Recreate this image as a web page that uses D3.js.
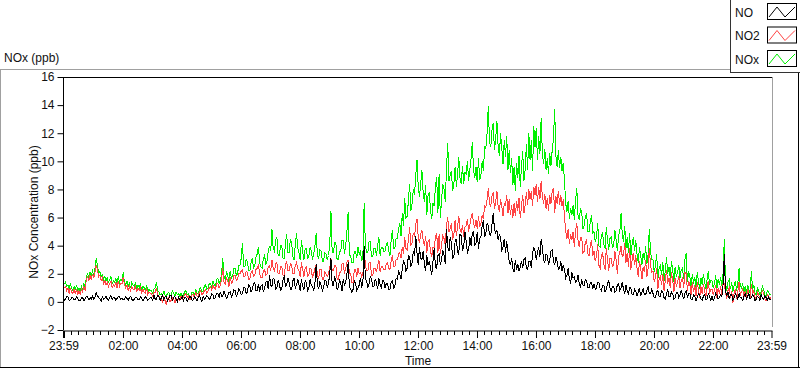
<!DOCTYPE html>
<html>
<head>
<meta charset="utf-8">
<script src="https://cdn.jsdelivr.net/npm/d3@7"></script>
<style>
  body { margin: 0; background: #fff; }
  svg { display: block; font-family: "Liberation Sans", Arial, sans-serif; }
</style>
</head>
<body>
<svg id="chart" width="800" height="369"></svg>
<script>
"use strict";

// samples every 2.5 minutes from 23:59 to 23:59, one row per hour (24 values), plus a final point
const noValues = [
  0.3,0.1,0.2,0.35,0.35,0.1,0.15,0.3,0.3,0.15,0.2,0.35,0.25,0.05,0.1,0.3,0.3,0.1,0.2,0.4,0.35,0.15,0.3,0.2,
  0.4,0.2,0.3,0.65,0.45,0.3,0.2,0.05,0.35,0.2,0.25,0.4,0.2,0.1,0.3,0.45,0.15,0.3,0.3,0.1,0.25,0.4,0.35,0.15,
  0.3,0.15,0.2,0.35,0.25,0.1,0.3,0.4,0.2,0.05,0.2,0.3,0.3,0.15,0.15,0.35,0.25,0.1,0.2,0.35,0.3,0.1,0.2,0.3,
  0.3,0.1,0.5,0.2,0.2,0.45,0.4,0.1,0.3,0.5,0.15,0.35,0.4,0.05,0.2,0.45,0.45,0.1,0.3,0.4,0.2,0.0,0.35,0.2,
  0.2,0.4,0.1,0.3,0.3,0.05,0.2,0.4,0.35,0.1,0.15,0.35,0.25,0.05,0.3,0.45,0.2,0.05,0.4,0.2,0.3,0.45,0.35,0.15,
  0.3,0.55,0.5,0.2,0.35,0.6,0.6,0.3,0.7,0.4,0.4,0.75,0.55,0.25,0.4,0.65,0.7,0.35,0.5,0.85,0.8,0.4,0.6,0.9,
  0.8,0.5,0.6,1.0,1.0,0.6,0.7,1.2,1.1,0.7,0.9,1.3,1.4,0.8,0.8,1.3,0.7,1.1,1.2,0.7,1.0,1.4,1.5,0.9,
  1.9,1.2,1.1,1.7,1.6,0.9,1.0,1.5,1.3,0.8,0.9,1.6,1.8,1.1,1.2,1.7,1.4,0.9,0.9,1.5,1.7,1.0,1.2,1.6,
  1.2,0.8,1.6,1.1,0.9,1.5,1.4,0.8,1.0,1.6,1.2,1.1,0.8,1.4,2.7,1.2,0.9,1.4,1.2,0.8,1.0,1.5,1.5,1.0,
  1.3,2.0,3.1,1.2,1.2,1.8,1.5,0.9,1.0,1.6,1.3,0.8,1.6,1.2,1.4,2.0,2.8,1.1,0.9,0.7,0.9,1.5,1.3,0.8,
  1.0,1.2,1.7,1.0,1.4,4.0,1.6,1.5,1.0,1.3,1.8,1.6,1.1,1.1,1.6,1.4,0.9,1.7,1.2,1.0,1.5,1.5,1.0,1.3,
  1.3,0.9,0.9,1.4,1.5,1.0,1.1,1.7,1.6,2.2,2.0,1.6,2.3,2.9,2.8,2.2,2.4,3.3,3.2,2.5,2.8,3.6,3.3,4.7,
  3.5,2.6,3.9,3.1,3.0,3.6,2.7,2.2,3.3,2.6,2.9,2.4,1.9,2.9,3.8,2.5,2.4,3.3,3.4,2.6,3.0,3.7,3.3,2.7,
  5.2,3.9,3.6,4.6,4.2,3.1,3.2,4.3,4.5,3.5,3.4,4.8,4.7,3.6,3.9,5.0,4.3,3.5,3.7,4.6,4.0,4.9,5.0,4.0,
  4.2,5.0,3.8,4.5,4.6,5.4,5.8,4.6,4.9,5.6,5.4,4.8,4.7,5.5,6.3,5.2,4.9,5.1,4.4,4.8,4.6,3.7,3.9,4.5,
  3.5,4.3,3.6,2.9,2.6,3.1,2.4,2.1,3.0,2.3,2.7,2.2,2.5,2.9,2.4,3.0,3.1,2.4,2.3,2.9,2.9,2.4,3.4,3.9,
  3.6,3.0,3.5,3.9,3.2,4.5,3.9,3.0,2.8,3.4,3.3,2.6,3.0,3.6,3.7,2.9,2.6,3.2,2.9,2.3,2.4,2.9,2.2,2.6,
  2.3,1.7,1.9,2.4,1.6,1.3,2.1,1.7,1.8,1.4,1.5,1.9,1.3,1.0,1.6,1.2,1.2,1.6,1.5,1.0,1.0,1.4,1.4,0.9,
  1.3,0.9,1.0,1.4,1.4,0.9,0.8,1.2,1.2,0.7,0.9,1.3,1.5,1.0,0.7,1.1,1.1,0.7,0.8,1.2,1.3,0.8,1.0,1.4,
  0.9,0.6,1.2,0.8,0.6,1.0,1.0,0.5,0.5,0.9,0.8,0.4,0.7,1.0,0.4,0.7,0.9,0.5,0.5,0.8,1.1,0.6,0.6,0.9,
  0.6,0.3,0.3,0.7,0.8,0.4,0.4,0.8,0.7,0.3,0.2,0.6,0.9,0.4,0.4,0.7,0.6,0.2,0.3,0.7,0.7,0.3,0.5,0.8,
  0.5,0.2,0.6,0.8,0.3,0.6,0.6,0.2,0.2,0.5,0.4,0.1,0.3,0.6,0.5,0.2,0.1,0.4,0.5,0.2,0.2,0.6,0.4,0.1,
  0.4,0.1,0.3,0.6,0.5,0.2,0.3,0.5,0.4,1.2,3.4,0.8,0.4,0.7,0.2,0.5,0.5,0.1,0.3,0.6,0.4,0.2,0.6,0.3,
  0.3,0.1,0.4,0.6,0.2,0.4,0.6,0.2,0.3,0.5,0.4,0.1,0.2,0.4,0.3,0.1,0.5,0.3,0.2,0.45,0.3,0.1,0.35,0.2,
  0.2
];

const no2Values = [
  1.3,1.0,1.1,0.8,1.0,0.6,1.0,0.7,0.6,0.9,0.6,0.9,0.5,0.8,0.5,0.9,0.7,1.1,0.8,1.6,1.8,1.5,1.9,1.6,
  2.0,1.7,2.1,2.6,2.3,1.8,1.9,1.5,1.7,1.3,1.5,1.2,1.4,1.1,1.3,1.5,1.0,1.2,1.1,1.4,1.0,1.5,1.1,1.3,
  1.3,1.8,1.2,1.0,1.2,0.8,1.1,0.8,1.1,0.9,0.9,1.1,0.7,1.0,0.8,1.0,0.6,0.9,0.7,0.6,1.0,0.5,0.7,0.6,
  0.6,0.4,0.7,0.7,1.0,0.5,0.4,0.2,0.2,0.0,0.4,0.1,-0.2,0.2,0.3,0.0,0.1,0.3,0.2,-0.1,0.3,0.0,0.3,0.1,
  0.4,0.2,0.3,0.5,0.6,0.3,0.4,0.2,0.2,0.5,0.5,0.3,0.7,0.4,0.4,0.7,0.8,0.5,0.6,0.8,0.9,0.6,0.8,1.0,
  1.1,0.8,1.2,1.0,0.9,1.3,1.3,1.0,1.2,1.6,2.4,1.4,1.3,1.7,1.5,1.1,1.8,1.3,1.4,1.9,1.9,1.5,1.6,2.0,
  2.0,2.2,2.3,1.8,1.8,2.2,2.1,1.6,1.6,2.1,2.2,1.8,1.9,2.3,2.4,2.6,2.0,1.7,1.7,2.2,2.3,1.9,2.0,2.5,
  2.6,2.2,3.0,2.4,2.2,2.7,2.8,2.0,2.0,2.5,2.5,1.9,1.9,2.6,2.9,2.2,2.2,2.7,2.6,2.0,2.0,2.6,2.8,2.4,
  2.2,1.8,2.8,2.3,1.8,2.4,2.5,1.8,1.9,2.4,2.3,1.7,2.0,2.4,2.7,1.9,1.7,2.3,2.3,1.6,1.6,2.1,2.0,1.8,
  2.0,2.4,3.1,2.2,2.2,2.6,2.6,1.6,1.6,2.1,2.1,2.7,2.7,2.0,2.4,2.8,3.0,2.0,2.0,1.4,1.4,2.3,2.3,1.8,
  2.4,2.0,2.1,1.8,2.0,3.9,2.6,2.2,2.2,2.8,2.8,1.9,1.9,2.4,2.4,2.1,2.6,3.0,2.1,2.5,2.5,2.3,2.3,2.7,
  2.8,2.4,2.3,2.9,3.3,2.5,2.5,3.0,3.0,3.4,3.5,3.1,3.9,3.4,4.6,3.8,3.7,4.4,5.3,4.0,4.2,4.9,4.6,5.5,
  5.9,4.6,4.2,4.8,5.1,4.4,4.0,4.7,3.5,4.3,4.4,3.6,3.2,3.9,3.8,4.6,4.9,3.5,4.8,3.4,4.1,4.7,4.5,4.0,
  5.5,6.0,5.0,5.2,5.6,4.4,4.8,5.8,4.7,5.3,6.1,5.2,4.9,5.5,4.6,5.3,5.4,5.9,5.0,5.5,6.0,6.3,5.6,5.3,
  5.8,5.2,6.1,5.3,5.6,6.2,5.9,6.9,6.7,7.3,8.1,7.0,6.8,7.5,7.8,6.6,7.1,7.9,6.8,6.4,7.3,6.8,6.1,7.0,
  6.9,7.6,6.3,7.3,6.2,6.9,6.0,7.0,6.1,7.2,6.5,7.4,6.0,6.8,7.6,6.3,6.9,7.8,6.9,8.0,7.3,7.9,6.8,8.2,
  7.6,8.4,7.1,8.2,7.3,8.6,7.5,7.0,7.7,6.6,7.4,6.5,7.6,7.0,7.9,8.1,6.3,7.5,7.0,7.9,6.9,7.6,6.8,7.3,
  6.0,5.0,4.5,5.2,4.1,4.8,4.4,5.0,3.9,5.1,5.6,4.4,3.9,4.6,4.6,3.5,3.6,4.3,4.4,3.4,3.3,4.0,4.4,3.3,
  3.6,2.9,3.2,4.1,2.6,2.4,3.3,3.5,2.7,2.3,3.8,3.0,2.2,3.1,3.1,2.5,2.6,3.6,3.0,2.0,3.2,3.5,4.0,3.2,
  3.3,4.2,2.8,3.5,2.5,3.8,2.3,3.0,3.5,2.6,3.3,2.4,1.8,2.9,2.4,1.6,2.5,2.1,3.0,1.8,2.4,3.8,2.6,2.1,
  2.2,1.4,1.8,2.4,0.9,1.6,1.8,1.2,2.0,0.8,1.5,2.3,1.3,1.7,1.0,2.1,1.6,0.7,1.7,1.1,1.4,1.8,1.0,1.5,
  1.7,1.0,2.1,2.0,0.8,1.5,1.2,0.5,1.4,0.7,1.2,0.4,1.4,0.9,0.3,1.1,0.6,1.3,0.8,0.3,1.0,1.5,0.6,0.9,
  0.9,0.5,0.8,1.2,0.3,1.0,0.6,1.1,0.5,1.3,1.3,0.7,0.2,0.8,1.0,0.3,0.8,-0.1,0.6,0.9,0.2,0.7,1.4,0.5,
  0.7,0.9,0.3,0.8,0.3,0.9,0.6,0.2,1.3,0.6,0.8,0.3,0.2,0.7,0.5,0.1,0.4,0.8,0.6,0.2,0.1,0.5,0.4,0.2,
  0.3
];

const noxValues = [
  1.5,1.3,1.4,1.1,1.2,0.9,1.3,1.0,0.8,1.1,0.9,1.2,0.8,1.0,0.7,1.1,0.9,1.3,1.0,1.8,2.0,1.7,2.1,1.9,
  2.2,1.9,2.4,3.1,2.6,2.0,2.2,1.8,1.9,1.6,1.8,1.5,1.7,1.4,1.6,1.8,1.3,1.5,1.4,1.7,1.3,1.8,1.4,1.6,
  1.5,2.1,1.4,1.2,1.5,1.1,1.3,1.0,1.4,1.2,1.1,1.4,0.9,1.2,1.0,1.3,0.8,1.1,1.0,0.8,1.2,0.7,0.9,0.8,
  0.8,0.6,0.9,1.0,1.4,0.8,0.7,0.5,0.6,0.4,0.8,0.5,0.4,0.6,0.7,0.4,0.5,0.8,0.6,0.4,0.7,0.5,0.6,0.4,
  0.6,0.4,0.5,0.7,0.8,0.5,0.6,0.4,0.4,0.7,0.7,0.5,0.9,0.6,0.6,0.9,1.0,0.7,0.8,1.1,1.2,0.9,1.0,1.3,
  1.3,1.0,1.5,1.2,1.1,1.6,1.7,1.3,1.5,2.0,3.1,1.8,1.6,2.1,1.9,1.4,2.2,1.7,1.8,2.4,2.4,1.9,2.0,2.6,
  2.6,3.1,4.2,2.5,2.5,3.0,2.9,2.2,2.2,2.8,3.1,2.4,2.6,3.2,3.4,3.9,2.8,2.5,2.4,3.1,3.3,2.7,2.9,3.6,
  4.0,3.6,5.2,3.8,3.6,4.4,4.6,3.3,3.3,4.0,4.0,3.1,3.1,4.2,4.8,3.5,3.5,4.5,4.2,3.2,3.0,4.1,4.9,3.8,
  3.5,3.0,4.4,3.6,3.0,3.8,3.8,3.1,3.2,3.9,3.6,3.0,3.4,4.0,4.9,3.3,3.1,3.7,3.6,2.9,2.9,3.5,3.4,3.0,
  3.3,4.0,6.5,3.5,3.5,4.2,4.2,3.0,3.0,3.6,3.6,4.4,4.4,3.4,4.0,5.0,6.4,3.3,3.3,2.8,2.8,3.6,3.6,3.1,
  3.9,3.4,3.6,2.9,3.3,7.0,4.0,3.5,3.5,4.3,4.3,3.2,3.2,3.8,3.8,3.3,4.0,4.6,3.3,3.9,3.9,3.6,3.6,4.1,
  4.2,3.6,3.3,4.4,5.1,3.8,3.8,4.5,4.5,5.2,5.6,4.7,6.3,5.4,7.4,6.0,6.1,7.2,8.4,6.5,7.0,8.0,7.6,9.0,
  10.1,8.2,7.5,8.4,9.4,7.8,7.1,8.3,6.2,7.6,7.8,6.5,5.9,7.0,6.8,8.2,8.9,6.3,9.1,6.0,7.3,8.4,8.0,7.1,
  9.5,11.3,8.6,9.0,9.3,7.9,8.4,9.6,8.2,9.1,10.3,8.8,8.4,9.7,8.4,9.2,9.1,10.0,8.6,9.4,10.2,11.4,9.4,8.8,
  9.6,8.5,10.2,8.7,9.0,10.0,9.3,11.0,10.9,12.0,13.9,11.4,11.0,12.2,12.7,10.8,11.6,12.9,11.1,10.4,12.0,10.9,9.8,11.5,
  10.3,11.8,9.4,10.8,9.2,10.2,8.3,9.6,7.9,9.9,8.8,10.4,8.2,9.6,10.7,8.6,9.4,11.2,9.4,12.0,10.1,11.5,9.3,12.5,
  11.0,12.4,10.1,11.8,10.5,13.1,10.6,9.8,10.9,9.4,10.2,9.1,10.6,9.7,10.8,11.6,13.7,10.4,9.6,10.8,9.5,10.3,9.3,9.9,
  8.6,7.0,6.4,7.2,5.9,6.7,6.2,6.9,5.8,7.2,8.1,6.2,5.8,6.6,6.4,5.2,5.4,6.1,6.3,5.0,5.0,5.7,6.2,4.9,
  5.0,4.3,4.6,5.6,4.0,3.9,4.7,4.9,4.1,3.8,5.3,4.4,3.7,4.5,4.6,3.9,4.0,5.1,4.4,3.6,4.7,5.0,6.3,4.8,
  4.3,5.4,3.8,4.6,3.5,4.9,3.2,4.1,4.6,3.6,4.4,3.4,2.8,3.9,3.3,2.6,3.5,3.0,4.0,2.7,3.4,5.2,3.6,3.0,
  3.0,2.1,2.6,3.4,1.6,2.4,2.6,1.9,2.8,1.5,2.2,3.2,2.0,2.5,1.7,2.9,2.3,1.4,2.5,1.8,2.1,2.6,1.7,2.3,
  2.4,1.6,3.0,3.5,1.4,2.2,1.8,1.1,2.0,1.3,1.8,1.0,2.1,1.5,0.9,1.7,1.2,2.0,1.4,0.9,1.6,2.2,1.2,1.5,
  1.5,1.0,1.3,1.9,0.9,1.6,1.2,1.8,1.1,2.0,4.5,1.3,0.8,1.4,1.6,0.9,1.4,0.7,1.2,1.5,0.8,1.3,2.4,1.1,
  1.0,1.3,0.7,1.1,0.6,1.2,0.9,0.6,2.2,0.9,1.2,0.6,0.5,1.0,0.8,0.5,0.7,1.1,0.9,0.5,0.4,0.8,0.7,0.5,
  0.5
];

const seriesNames = ["NO", "NO2", "NOx"];
const seriesColors = ["#000000", "#ff4444", "#00f000"];

// minutes after midnight; -1 is the 23:59 start
const xTickMinutes = [-1, 120, 240, 360, 480, 600, 720, 840, 960, 1080, 1200, 1320, 1439];
const xTickLabels = ["23:59", "02:00", "04:00", "06:00", "08:00", "10:00", "12:00",
                     "14:00", "16:00", "18:00", "20:00", "22:00", "23:59"];
const yTicks = [-2, 0, 2, 4, 6, 8, 10, 12, 14, 16];
const sampleStep = 2.5; // minutes

const svg = d3.select("#chart");

const plot = {left: 63, right: 772, top: 77, bottom: 330};

const x = d3.scaleLinear().domain([-1, 1439]).range([plot.left, plot.right - 1]);
const y = d3.scaleLinear().domain([-2, 16]).range([plot.bottom, plot.top]);

// outer panel frame
svg.append("line").attr("x1", 0).attr("x2", 730).attr("y1", 69.5).attr("y2", 69.5)
  .attr("stroke", "#a0a0a0");
svg.append("line").attr("x1", 0.5).attr("x2", 0.5).attr("y1", 69).attr("y2", 368)
  .attr("stroke", "#a0a0a0");
svg.append("line").attr("x1", 0).attr("x2", 800).attr("y1", 367.5).attr("y2", 367.5)
  .attr("stroke", "#000");
svg.append("line").attr("x1", 798.5).attr("x2", 798.5).attr("y1", 72).attr("y2", 368)
  .attr("stroke", "#000");

svg.append("text").attr("x", 4).attr("y", 62).attr("font-size", 12).attr("fill", "#111")
  .text("NOx (ppb)");

// plot area frame
svg.append("line").attr("x1", plot.left).attr("x2", plot.right).attr("y1", plot.top + 0.5).attr("y2", plot.top + 0.5)
  .attr("stroke", "#000");
svg.append("line").attr("x1", plot.right + 0.5).attr("x2", plot.right + 0.5).attr("y1", plot.top).attr("y2", plot.bottom - 3)
  .attr("stroke", "#a0a0a0");

// lines, NOx behind, NO on top
const allSeries = [noValues, no2Values, noxValues];
const line = d3.line()
  .x((d, i) => x(-1 + i * sampleStep))
  .y(d => y(d));

[2, 1, 0].forEach(k => {
  svg.append("path")
    .datum(allSeries[k])
    .attr("d", line)
    .attr("fill", "none")
    .attr("stroke", seriesColors[k])
    .attr("stroke-width", 1)
    .attr("shape-rendering", "crispEdges");
});

// y axis
const yAxis = svg.append("g")
  .attr("transform", `translate(${plot.left + 0.5},0)`)
  .call(d3.axisLeft(y).tickValues(yTicks).tickSize(6).tickPadding(3).tickFormat(d3.format("d")));
yAxis.select(".domain").attr("d", `M0,${plot.top}V${plot.bottom}`).attr("stroke", "#000");
yAxis.selectAll("text").attr("font-size", 12).attr("font-family", "Liberation Sans, Arial, sans-serif").attr("fill", "#111");

// x axis
const xAxis = svg.append("g")
  .attr("transform", `translate(0.5,${plot.bottom + 1})`)
  .call(d3.axisBottom(x).tickValues(xTickMinutes).tickSize(7).tickPadding(3)
    .tickFormat((d, i) => xTickLabels[i]));
xAxis.select(".domain").attr("d", `M${plot.left},0H${plot.right}`).attr("stroke", "#000");
xAxis.selectAll("text").attr("font-size", 12).attr("font-family", "Liberation Sans, Arial, sans-serif").attr("fill", "#111");
xAxis.selectAll(".tick line").attr("stroke-width", (d, i) => i === 0 ? 2 : 1);

const minorTicks = d3.range(0, 1440, 15).filter(m => m % 120 !== 0);
svg.append("g")
  .selectAll("line")
  .data(minorTicks)
  .join("line")
  .attr("x1", d => Math.round(x(d)) + 0.5)
  .attr("x2", d => Math.round(x(d)) + 0.5)
  .attr("y1", plot.bottom + 1)
  .attr("y2", plot.bottom + 5)
  .attr("stroke", "#000");

svg.append("text")
  .attr("x", 418).attr("y", 365)
  .attr("text-anchor", "middle").attr("font-size", 12).attr("fill", "#111")
  .text("Time");

svg.append("text")
  .attr("transform", "translate(38,212) rotate(-90)")
  .attr("text-anchor", "middle").attr("font-size", 12).attr("fill", "#111")
  .text("NOx Concentration (ppb)");

// legend
const legend = svg.append("g");
legend.append("rect").attr("x", 730.5).attr("y", -1).attr("width", 70).attr("height", 73.5)
  .attr("fill", "#fff").attr("stroke", "#333");

const swatchPts = [[0, 11], [8, 1], [16, 11], [26, 1]];
seriesNames.forEach((name, i) => {
  const cy = 12 + i * 23.5;
  legend.append("text").attr("x", 735).attr("y", cy + 4.5)
    .attr("font-size", 12).attr("fill", "#111").text(name);
  legend.append("rect").attr("x", 767.5).attr("y", cy - 8.5).attr("width", 29).attr("height", 16)
    .attr("fill", "#fff").attr("stroke", "#000");
  legend.append("path")
    .attr("d", d3.line()(swatchPts.map(p => [769 + p[0], cy - 6 + p[1]])))
    .attr("fill", "none").attr("stroke", seriesColors[i]);
});
</script>
</body>
</html>
